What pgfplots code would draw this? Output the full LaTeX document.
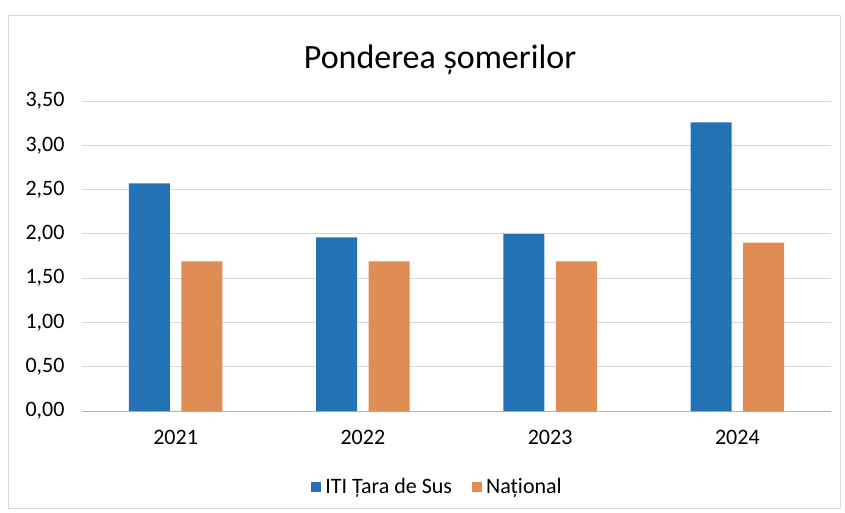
\documentclass[border=0pt]{standalone}
\usepackage{pgfplots}
\pgfplotsset{compat=1.18}
\usepackage{fontspec}
\setmainfont{Carlito}
\definecolor{cblue}{RGB}{36,114,182}
\definecolor{corange}{RGB}{224,140,82}
\definecolor{gridc}{RGB}{217,217,217}
\begin{document}
\begin{tikzpicture}
\path[use as bounding box] (0,0) rectangle (845pt,-512pt);
\draw[gridc,line width=0.8pt] (8pt,-15pt) rectangle (840pt,-508pt);
\node[font=\fontsize{34}{40}\selectfont] at (440pt,-60pt) {Ponderea șomerilor};
\begin{axis}[
  at={(82pt,-411pt)}, anchor=south west,
  scale only axis, width=749pt, height=310pt,
  xmin=-0.5, xmax=3.5, ymin=0, ymax=3.5,
  ybar, bar width=41pt,
  xtick={0,1,2,3}, xticklabels={2021,2022,2023,2024},
  ytick={0,0.5,...,3.5},
  yticklabel style={/pgf/number format/use comma, /pgf/number format/fixed, /pgf/number format/fixed zerofill, /pgf/number format/precision=2, /pgf/number format/assume math mode=true, xshift=-14pt},
  tick label style={font=\fontsize{22}{25}\selectfont},
  major tick length=0pt,
  axis line style={draw=none},
  ymajorgrids, grid style={gridc, line width=0.8pt},
  extra y ticks={0}, extra y tick labels={},
  extra y tick style={grid style={gray!60, line width=0.9pt}},
  xticklabel style={yshift=-16pt},
  legend style={at={(0.476,-0.245)}, anchor=center, draw=none, legend columns=2,
    font=\fontsize{22}{25}\selectfont, nodes={inner xsep=4pt},
    /tikz/every even column/.append style={column sep=16pt}},
  legend image code/.code={\fill[#1] (0pt,-5pt) rectangle (10pt,5pt);},
]
\addplot[fill=cblue, draw=none, bar shift=-26.3pt] coordinates {(0,2.57) (1,1.96) (2,2.00) (3,3.26)};
\addplot[fill=corange, draw=none, bar shift=26.3pt] coordinates {(0,1.69) (1,1.69) (2,1.69) (3,1.90)};
\legend{ITI Țara de Sus, Național}
\end{axis}
\end{tikzpicture}
\end{document}
